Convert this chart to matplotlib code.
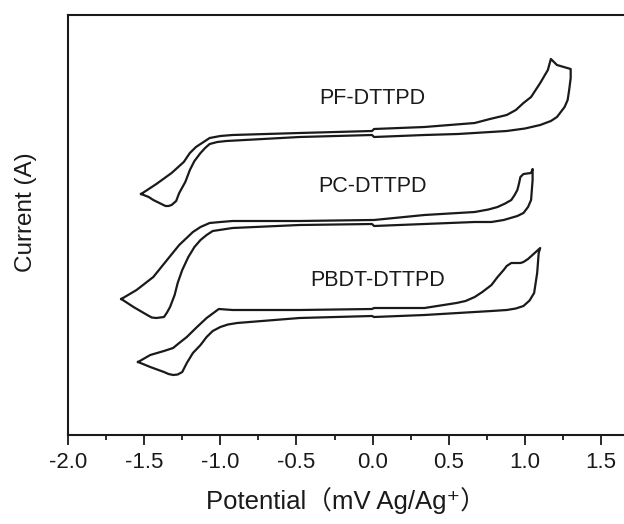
import matplotlib.pyplot as plt
from matplotlib.ticker import MultipleLocator

plt.rcParams['font.family'] = ['Liberation Sans', 'Noto Sans CJK SC', 'DejaVu Sans']
plt.rcParams['axes.unicode_minus'] = False

# cyclic voltammograms: potential (V) and current (arb. units, curves offset)
pf_v = [-1.52, -1.42, -1.32, -1.24, -1.20, -1.16, -1.11, -1.07, -1.00, -0.92,
        -0.48, -0.004, 0.009, 0.34, 0.67, 0.77, 0.88, 0.94, 0.99, 1.04,
        1.10, 1.15, 1.17, 1.21, 1.30,
        1.30, 1.29, 1.28, 1.26, 1.23, 1.21, 1.17, 1.10, 1.00, 0.88,
        0.56, 0.34, 0.009, -0.004, -0.48, -0.96, -1.02, -1.07, -1.10, -1.13,
        -1.17, -1.20, -1.23, -1.27, -1.29, -1.32, -1.34, -1.36, -1.40, -1.44,
        -1.47, -1.52]
pf_i = [24.1, 25.1, 26.2, 27.3, 28.2, 28.8, 29.3, 29.7, 29.9, 30.0,
        30.2, 30.4, 30.6, 30.8, 31.2, 31.6, 32.0, 32.5, 33.2, 33.8,
        35.2, 36.5, 37.6, 37.0, 36.6,
        35.7, 34.5, 33.5, 32.8, 32.2, 31.8, 31.4, 31.0, 30.65, 30.4,
        30.1, 30.0, 29.8, 30.0, 29.8, 29.4, 29.3, 29.1, 28.7, 28.2,
        27.4, 26.5, 25.3, 24.2, 23.4, 23.0, 22.9, 22.9, 23.2, 23.5,
        23.8, 24.1]

pc_v = [-1.65, -1.55, -1.44, -1.35, -1.27, -1.18, -1.13, -1.07, -1.00, -0.92,
        -0.48, -0.004, 0.009, 0.34, 0.67, 0.76, 0.82, 0.87, 0.91, 0.93,
        0.95, 0.96, 0.97, 0.99, 1.04, 1.05,
        1.05, 1.045, 1.04, 1.02, 0.99, 0.95, 0.86, 0.78, 0.67, 0.34,
        0.009, -0.004, -0.48, -0.92, -1.05, -1.09, -1.13, -1.17, -1.21, -1.25,
        -1.28, -1.30, -1.33, -1.35, -1.37, -1.42, -1.45, -1.48, -1.57, -1.65]
pc_i = [13.6, 14.5, 15.8, 17.5, 19.0, 20.3, 20.8, 21.2, 21.3, 21.4,
        21.4, 21.5, 21.5, 22.0, 22.3, 22.55, 22.8, 23.15, 23.5, 23.95,
        24.5, 25.1, 25.8, 26.1, 26.2, 26.6,
        25.5, 24.5, 23.5, 22.8, 22.2, 21.9, 21.5, 21.3, 21.3, 21.1,
        20.9, 21.1, 21.0, 20.7, 20.4, 20.0, 19.5, 18.8, 17.8, 16.5,
        15.2, 14.0, 12.8, 12.25, 11.8, 11.7, 11.75, 12.0, 12.8, 13.6]

pbdt_v = [-1.54, -1.46, -1.37, -1.31, -1.27, -1.22, -1.16, -1.09, -1.01, -0.92,
          -0.48, -0.004, 0.009, 0.34, 0.55, 0.61, 0.67, 0.72, 0.78, 0.82,
          0.86, 0.88, 0.91, 0.94, 0.97, 0.99, 1.02, 1.10,
          1.09, 1.08, 1.06, 1.03, 0.99, 0.94, 0.88, 0.78, 0.56, 0.34,
          0.009, -0.004, -0.48, -0.89, -0.95, -1.00, -1.05, -1.09, -1.13, -1.18,
          -1.22, -1.25, -1.28, -1.31, -1.34, -1.37, -1.46, -1.54]
pbdt_i = [7.3, 8.0, 8.4, 8.7, 9.2, 9.8, 10.7, 11.7, 12.6, 12.5,
          12.5, 12.6, 12.7, 12.7, 13.2, 13.4, 13.8, 14.3, 15.0, 15.8,
          16.5, 16.9, 17.2, 17.2, 17.2, 17.3, 17.6, 18.7,
          18.2, 16.2, 14.2, 13.45, 12.9, 12.65, 12.5, 12.4, 12.2, 12.0,
          11.8, 11.9, 11.7, 11.2, 11.05, 10.8, 10.4, 9.8, 9.0, 8.2,
          7.2, 6.3, 6.05, 6.0, 6.1, 6.3, 6.8, 7.3]

names = ['PF-DTTPD', 'PC-DTTPD', 'PBDT-DTTPD']
label_x = [0.0, 0.0, 0.03]
label_y = [33.7, 24.8, 15.5]

fig = plt.figure(figsize=(6.24, 5.24), dpi=100)
ax = fig.add_axes([68/624, 89/524, 556/624, 420/524])

for v, i in [(pf_v, pf_i), (pc_v, pc_i), (pbdt_v, pbdt_i)]:
    ax.plot(v, i, color='#1a1a1a', lw=1.6, solid_joinstyle='round')

for n, tx, ty in zip(names, label_x, label_y):
    ax.text(tx, ty, n, ha='center', va='center', fontsize=15.5, color='#1a1a1a')

ax.set_xlim(-2.0, 1.65)
ax.set_ylim(0, 42)
ax.xaxis.set_major_locator(MultipleLocator(0.5))
ax.xaxis.set_minor_locator(MultipleLocator(0.25))
ax.set_yticks([])
ax.spines['right'].set_visible(False)
for s in ['left', 'bottom', 'top']:
    ax.spines[s].set_linewidth(1.5)
    ax.spines[s].set_color('#1a1a1a')
ax.tick_params(axis='x', which='major', direction='out', length=7, width=1.3,
               labelsize=16, pad=5, colors='#1a1a1a')
ax.tick_params(axis='x', which='minor', direction='out', length=3.5, width=1.3,
               colors='#1a1a1a')

ax.set_xlabel('Potential（mV Ag/Ag⁺）', fontsize=18.5, labelpad=10, color='#1a1a1a')
ax.set_ylabel('Current (A)', fontsize=17.5, color='#1a1a1a')
ax.yaxis.set_label_coords(-0.056, 0.53)

fig.savefig('out.png', dpi=100)
